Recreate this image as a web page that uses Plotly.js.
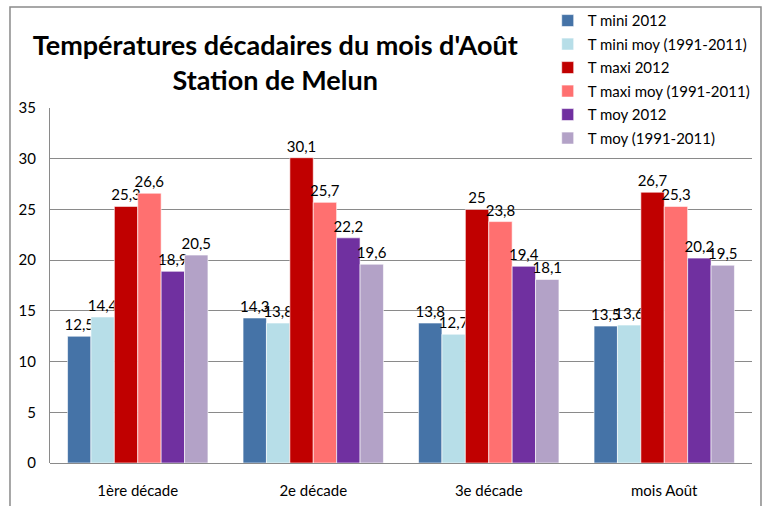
<!DOCTYPE html>
<html><head><meta charset="utf-8">
<script src="https://cdn.plot.ly/plotly-3.0.1.min.js"></script>
<style>body{margin:0;background:#fff}</style></head>
<body><div id="chart" style="width:771px;height:506px"></div>
<script>
const categories = ["1ère décade", "2e décade", "3e décade", "mois Août"];
const seriesNames = ["T mini 2012", "T mini moy (1991-2011)", "T maxi 2012", "T maxi moy (1991-2011)", "T moy 2012", "T moy (1991-2011)"];
const tMini2012 = [12.5, 14.3, 13.8, 13.5];
const tMiniMoy = [14.4, 13.8, 12.7, 13.6];
const tMaxi2012 = [25.3, 30.1, 25, 26.7];
const tMaxiMoy = [26.6, 25.7, 23.8, 25.3];
const tMoy2012 = [18.9, 22.2, 19.4, 20.2];
const tMoyMoy = [20.5, 19.6, 18.1, 19.5];
const seriesValues = [tMini2012, tMiniMoy, tMaxi2012, tMaxiMoy, tMoy2012, tMoyMoy];
const colors = ["#4573A7", "#B7DEE8", "#C00000", "#FF7070", "#7030A0", "#B3A2C7"];
const FONT = "Lato, 'Liberation Sans Narrow', sans-serif";

const traces = seriesValues.map((vals, i) => ({
  type: "bar",
  name: seriesNames[i],
  x: categories,
  y: vals,
  text: vals.map(v => String(v).replace(".", ",")),
  textposition: "outside",
  constraintext: "none",
  cliponaxis: false,
  textfont: {family: FONT, size: 15, color: "#000"},
  marker: {color: colors[i], line: {color: "rgba(255,255,255,0.6)", width: 1}},
  legendgroup: "g" + i,
  hoverinfo: "none"
}));

const layout = {
  width: 771, height: 506,
  margin: {l: 50, r: 19, t: 108, b: 43, autoexpand: false},
  paper_bgcolor: "#fff", plot_bgcolor: "#fff",
  font: {family: FONT, size: 15, color: "#000"},
  title: {
    text: "<b>Températures décadaires du mois d'Août<br>Station de Melun</b>",
    font: {family: FONT, size: 27, color: "#000"},
    x: 0.357, xanchor: "center", xref: "container",
    y: 0.892, yanchor: "top", yref: "container"
  },
  barmode: "group",
  bargap: 0.2, bargroupgap: 0,
  xaxis: {showline: false, ticks: "outside", ticklen: 14, tickcolor: "rgba(0,0,0,0)", tickfont: {size: 15}, showgrid: false},
  yaxis: {range: [0, 35], dtick: 5, showgrid: true, gridcolor: "#8a8a8a", gridwidth: 1,
          showline: true, linecolor: "#8a8a8a", ticks: "outside", ticklen: 10, tickcolor: "rgba(0,0,0,0)", tickfont: {size: 15},
          zeroline: true, zerolinecolor: "#8a8a8a"},
  legend: {x: 0.709, xanchor: "left", y: 1.292, yanchor: "top", bgcolor: "rgba(0,0,0,0)",
           font: {size: 15}, tracegroupgap: 1, traceorder: "grouped", itemwidth: 30},
  showlegend: true,
  shapes: [
    {type: "rect", xref: "paper", yref: "paper", x0: 0.7165, x1: 1.002, y0: 0.99, y1: 1.01,
     line: {width: 0}, fillcolor: "#fff", layer: "above"},
    {type: "rect", xref: "paper", yref: "paper", x0: -0.057, x1: 1.0128, y0: -0.3, y1: 1.2845,
     line: {color: "#8a8a8a", width: 1.5}, fillcolor: "rgba(0,0,0,0)", layer: "above"}
  ]
};
Plotly.newPlot("chart", traces, layout, {displayModeBar: false, staticPlot: true});
</script></body></html>
